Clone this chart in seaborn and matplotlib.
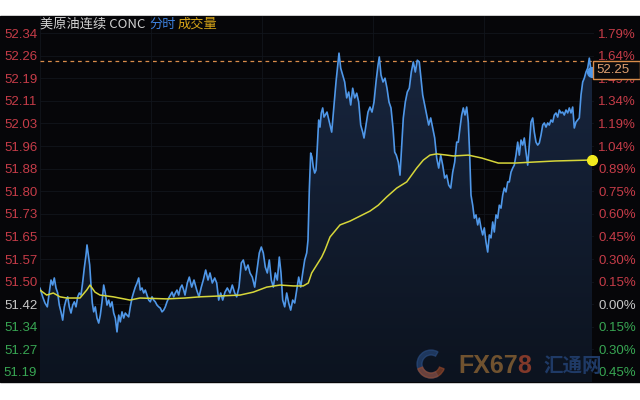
import numpy as np
import pandas as pd
import matplotlib
matplotlib.use("Agg")
import matplotlib.pyplot as plt
import seaborn as sns
from matplotlib.patches import Rectangle, Polygon, Wedge
from matplotlib.colors import LinearSegmentedColormap
from matplotlib.transforms import IdentityTransform

# intraday ticks (minutes since the open) and prices
minutes = [
    0.0, 2.7, 5.0, 7.3, 9.3, 11.0, 12.7, 14.3, 16.0, 17.7, 19.3, 21.0, 22.7, 24.3, 26.0,
    27.7, 29.3, 31.0, 32.7, 34.3, 36.0, 37.7, 39.3, 41.0, 42.7, 44.3, 46.0, 47.0, 48.3,
    49.7, 51.0, 52.3, 53.7, 55.3, 57.0, 58.7, 60.3, 62.0, 63.7, 65.3, 67.0, 68.7, 70.3,
    72.0, 73.7, 75.3, 77.0, 78.7, 80.3, 82.0, 83.7, 85.3, 87.0, 88.7, 90.3, 92.0, 93.7,
    95.3, 97.0, 98.7, 100.3, 102.0, 103.7, 105.3, 107.0, 108.7, 110.3, 112.0, 113.7,
    115.3, 117.0, 118.7, 120.3, 122.0, 123.7, 125.3, 127.0, 128.7, 130.3, 132.0, 133.7,
    135.3, 137.0, 138.7, 140.3, 142.0, 143.7,
    145.0, 147.3, 149.3, 151.7, 154.0, 156.7, 159.0, 161.3, 163.3, 165.7, 168.0, 170.0,
    172.3, 174.7, 176.7, 178.7, 180.7, 182.7, 185.0, 187.3, 190.0, 192.3, 194.7, 196.7,
    199.0, 201.3, 203.3, 205.7, 208.0, 210.0, 212.3, 214.7, 217.0, 219.3, 221.3, 223.3,
    225.3, 227.3, 229.3, 231.3, 233.3, 235.3, 237.3, 239.3, 241.0, 242.7, 244.7, 246.7,
    248.7, 250.7, 252.7, 254.7, 256.7, 258.7, 260.7, 262.7, 264.7, 266.7, 268.0, 269.3,
    270.7, 272.0, 273.3, 274.7, 276.0, 277.3, 278.7, 280.0, 281.3, 282.7, 284.0,
    287.0, 289.3, 291.7, 294.0, 296.0, 297.7, 299.0, 300.7, 302.7, 304.7, 306.7, 308.7,
    310.7, 312.7, 314.7, 316.7, 318.7, 320.7, 322.7, 324.0, 326.0, 328.0, 330.0, 332.0,
    334.0, 336.0, 338.0, 339.3, 341.0, 343.0, 345.0, 347.0, 349.0, 351.0, 353.0, 354.7,
    356.3, 358.3, 360.0, 361.7, 363.3, 365.3, 367.3, 369.3, 371.3, 373.3, 375.3, 377.3,
    379.3, 381.0, 382.7, 384.7, 386.7, 388.7, 390.7, 392.7, 394.7, 396.7, 398.7, 400.7,
    402.7, 404.7, 406.7, 408.7, 410.7, 412.7, 414.7, 416.7,
    418.3, 420.0, 421.7, 423.3, 425.0, 426.7, 428.3, 429.7, 431.0, 432.7, 434.3, 436.0,
    437.7, 439.3, 441.0, 442.7, 444.3, 446.0, 447.7, 449.3, 451.0, 452.7, 454.3, 456.0,
    457.7, 459.3, 461.0, 462.7, 464.3, 466.0, 467.7, 469.3, 471.0, 472.7, 474.3, 476.0,
    477.7, 479.3, 481.0, 482.7, 484.3, 486.0, 487.7, 489.3, 491.0, 492.7, 494.3, 496.0,
    497.7, 499.3, 501.0, 502.7, 504.3, 506.0, 507.7, 509.3, 511.0, 512.7, 514.3, 516.0,
    517.7, 519.3, 521.0, 522.7, 524.3, 526.0, 527.7, 529.3, 531.0, 532.7, 534.3, 536.0,
    537.7, 539.3, 541.0, 542.7, 544.3, 546.0, 547.7, 549.3, 551.0, 552.0,
]
price = [
    51.475, 51.445, 51.424, 51.411, 51.461, 51.502, 51.485, 51.509, 51.475, 51.458,
    51.417, 51.394, 51.366, 51.411, 51.434, 51.445, 51.411, 51.390, 51.417, 51.428,
    51.411, 51.445, 51.458, 51.451, 51.495, 51.543, 51.587, 51.621, 51.587, 51.553,
    51.485, 51.424, 51.394, 51.411, 51.373, 51.356, 51.383, 51.428, 51.485, 51.458,
    51.417, 51.434, 51.411, 51.428, 51.390, 51.373, 51.326, 51.383, 51.360, 51.394,
    51.373, 51.390, 51.383, 51.377, 51.411, 51.441, 51.461, 51.478, 51.492, 51.509,
    51.468, 51.475, 51.458, 51.468, 51.451, 51.434, 51.428, 51.445, 51.434, 51.428,
    51.417, 51.411, 51.407, 51.394, 51.400, 51.411, 51.428, 51.441, 51.451, 51.461,
    51.445, 51.458, 51.468, 51.451, 51.475, 51.485, 51.468,
    51.451, 51.492, 51.512, 51.478, 51.502, 51.468, 51.445, 51.478, 51.502, 51.536,
    51.502, 51.526, 51.492, 51.509, 51.492, 51.434, 51.458, 51.434, 51.461, 51.475,
    51.458, 51.485, 51.458, 51.445, 51.478, 51.560, 51.570, 51.536, 51.553, 51.526,
    51.512, 51.478, 51.536, 51.594, 51.614, 51.594, 51.546, 51.526, 51.570, 51.502,
    51.478, 51.526, 51.502, 51.580, 51.526, 51.434, 51.411, 51.458, 51.424, 51.400,
    51.434, 51.424, 51.468, 51.512, 51.478, 51.526, 51.570, 51.594, 51.638, 51.807,
    51.933, 51.919, 51.885, 51.865, 51.875, 51.953, 52.045, 52.021, 52.069, 52.086,
    52.055,
    52.072, 52.038, 52.004, 52.096, 52.174, 52.231, 52.272, 52.221, 52.198, 52.174,
    52.120, 52.140, 52.096, 52.153, 52.120, 52.136, 52.106, 52.028, 52.004, 51.984,
    52.028, 52.072, 52.089, 52.072, 52.106, 52.174, 52.231, 52.259, 52.198, 52.174,
    52.187, 52.153, 52.106, 52.086, 52.018, 51.936, 51.926, 51.902, 51.858, 51.960,
    52.052, 52.106, 52.140, 52.153, 52.208, 52.242, 52.208, 52.248, 52.242, 52.187,
    52.130, 52.096, 52.062, 52.028, 52.052, 52.018, 51.984, 51.916, 51.882, 51.926,
    51.892, 51.848, 51.858, 51.824, 51.814, 51.868, 51.902, 51.970,
    51.970, 52.018, 52.062, 52.086, 52.062, 52.089, 52.038, 51.926, 51.790, 51.756,
    51.712, 51.723, 51.689, 51.712, 51.679, 51.655, 51.679, 51.631, 51.597, 51.655,
    51.645, 51.699, 51.665, 51.723, 51.712, 51.756, 51.746, 51.790, 51.814, 51.801,
    51.835, 51.835, 51.868, 51.882, 51.892, 51.926, 51.970, 51.926, 51.977, 51.960,
    51.984, 51.936, 51.892, 51.960, 52.038, 52.052, 52.004, 51.970, 51.960, 51.967,
    51.994, 52.028, 52.035, 52.021, 52.035, 52.028, 52.045, 52.038, 52.062, 52.069,
    52.055, 52.079, 52.069, 52.072, 52.062, 52.079, 52.069, 52.086, 52.069, 52.089,
    52.018, 52.038, 52.045, 52.052, 52.130, 52.174, 52.187, 52.208, 52.221, 52.255,
    52.214, 52.208,
]

# average price line
avg_minutes = [0, 6.7, 13.3, 20, 26.7, 40, 46.7, 50, 55, 60, 73.3, 90, 100, 126.7, 145,
               160, 180, 200, 213.3, 226.7, 240, 253.3, 263.3, 268.3, 271.7, 276.7,
               281.7, 285, 290, 300, 310, 320, 330, 338.3, 346.7, 356.7, 366.7, 376.7,
               383.3, 390, 396.7, 406.7, 413.3, 428.3, 441.7, 458.3, 475, 491.7, 515,
               548.3, 552]
avg_price = [51.468, 51.451, 51.458, 51.445, 51.441, 51.441, 51.468, 51.485, 51.461,
             51.451, 51.445, 51.434, 51.441, 51.438, 51.441, 51.445, 51.448, 51.451,
             51.461, 51.478, 51.485, 51.482, 51.482, 51.492, 51.526, 51.553, 51.580,
             51.604, 51.648, 51.689, 51.702, 51.719, 51.736, 51.756, 51.784, 51.814,
             51.835, 51.882, 51.909, 51.926, 51.930, 51.926, 51.923, 51.926, 51.916,
             51.899, 51.899, 51.902, 51.906, 51.909, 51.909]

high_line = 52.245
last_label = "52.25"

left_labels = ["52.34", "52.26", "52.19", "52.11", "52.03", "51.96", "51.88", "51.80",
               "51.73", "51.65", "51.57", "51.50", "51.42", "51.34", "51.27", "51.19"]
right_labels = ["1.79%", "1.64%", "1.49%", "1.34%", "1.19%", "1.04%", "0.89%", "0.75%",
                "0.60%", "0.45%", "0.30%", "0.15%", "0.00%", "0.15%", "0.30%", "0.45%"]
n_up = 12  # labels above the previous close are red, below are green

RED = "#c63c48"
GREEN = "#38a653"
GREY = "#c8c8c8"
BLUE = "#4f97e8"
YELLOW = "#d6d63a"

sns.set_style("dark")
plt.rcParams['font.family'] = ['Liberation Sans', 'Noto Sans CJK SC', 'DejaVu Sans']

fig = plt.figure(figsize=(6.4, 4.0), dpi=100, facecolor="white")
# black panel of the terminal, behind the axes
fig.patches.append(Rectangle((0, 0.045), 1, 0.915, transform=fig.transFigure,
                             color="#060609", zorder=-10))
ax = fig.add_axes([40 / 640, 0.045, 554 / 640, 0.915])
ax.set_facecolor("#060609")

ylo, yhi = 51.156, 52.398
ticks = np.linspace(51.19, 52.34, len(left_labels))

df = pd.DataFrame({"minute": minutes, "price": price})
avg_df = pd.DataFrame({"minute": avg_minutes, "avg": avg_price})

# gradient fill under the price line
verts = [(minutes[0], ylo)] + list(zip(minutes, price)) + [(minutes[-1], ylo)]
poly = Polygon(verts, closed=True, facecolor="none", edgecolor="none")
ax.add_patch(poly)
cmap = LinearSegmentedColormap.from_list("fill", ["#18263f", "#0c131f"])
im = ax.imshow(np.linspace(0, 1, 256).reshape(-1, 1), aspect="auto", cmap=cmap,
               extent=[0, 554, ylo, 52.3], origin="upper", zorder=1)
im.set_clip_path(poly)

sns.lineplot(data=df, x="minute", y="price", ax=ax, color=BLUE, linewidth=1.2, zorder=3)
sns.lineplot(data=avg_df, x="minute", y="avg", ax=ax, color=YELLOW, linewidth=1.1, zorder=4)
ax.plot(minutes[-1], price[-1], "o", color=BLUE, markersize=7, zorder=5, clip_on=False)
ax.plot(avg_minutes[-1], avg_price[-1], "o", color="#f2ea1e", markersize=7, zorder=5,
        clip_on=False)

ax.axhline(high_line, color="#d98c4a", linestyle=(0, (3, 3)), linewidth=0.9, zorder=2)

ax.set_xlim(0, 554)
ax.set_ylim(ylo, yhi)
ax.set_xticks(np.arange(0, 554, 111))
ax.set_xticklabels([])
ax.set_yticks(ticks)
ax.set_yticklabels(left_labels[::-1])
ax.grid(True, color="#11151c", linewidth=0.6)
ax.tick_params(axis="both", length=0)
ax.tick_params(axis="y", labelsize=9.5, pad=2)
ax.set_xlabel("")
ax.set_ylabel("")
for s in ax.spines.values():
    s.set_visible(False)

for i, lab in enumerate(ax.get_yticklabels()[::-1]):
    lab.set_color(RED if i < n_up else (GREY if i == n_up else GREEN))

ax2 = ax.twinx()
ax2.set_ylim(ylo, yhi)
ax2.set_yticks(ticks)
ax2.set_yticklabels(right_labels[::-1])
ax2.tick_params(axis="y", length=0, labelsize=9.5, pad=3)
ax2.grid(False)
for s in ax2.spines.values():
    s.set_visible(False)
for i, lab in enumerate(ax2.get_yticklabels()[::-1]):
    lab.set_color(RED if i < n_up else (GREY if i == n_up else GREEN))

# last price box, laid over the right scale
box_y = 1 - 70 / 400
fig.patches.append(Rectangle((593 / 640, 1 - 79 / 400), 47 / 640, 18 / 400,
                             transform=fig.transFigure, facecolor="#0a0a0c",
                             edgecolor="#d98c4a", linewidth=1.0, zorder=10))
fig.text(596 / 640, box_y, last_label, color="#e0a070", fontsize=9.5,
         va="center", ha="left", zorder=11)

# title
cjk = ["Noto Sans CJK SC", "DejaVu Sans"]
fig.text(40 / 640, 1 - 24 / 400, "美原油连续 CONC", color="#d2d2d2", fontsize=9.5,
         va="center", family=cjk)
fig.text(149 / 640, 1 - 24 / 400, "分时", color="#3d80dc", fontsize=9.5,
         va="center", family=cjk)
fig.text(178 / 640, 1 - 24 / 400, "成交量", color="#d6a418", fontsize=9.5,
         va="center", family=cjk)

# watermark
cx, cy = 431, 400 - 364
fig.patches.append(Wedge((cx, cy), 14, 60, 300, width=5, transform=IdentityTransform(),
                         color="#2b4f86", alpha=0.6, zorder=6))
fig.patches.append(Wedge((cx, cy), 14, 200, 340, width=5, transform=IdentityTransform(),
                         color="#9a4a2a", alpha=0.6, zorder=6))
t1 = fig.text(458 / 640, 1 - 366 / 400, "FX67", color="#70522f", fontsize=18,
              fontweight="bold", va="center", ha="left", zorder=6)
renderer = fig.canvas.get_renderer()
x_end = t1.get_window_extent(renderer).x1
fig.text(x_end / 640, 1 - 366 / 400, "8", color="#82392a", fontsize=18,
         fontweight="bold", va="center", ha="left", zorder=6)
fig.text(543 / 640, 1 - 366 / 400, "汇通网", color="#1f3a66", fontsize=14,
         fontweight="bold", va="center", ha="left", zorder=6, family=cjk)

fig.savefig("out.png", dpi=100, facecolor="white")
